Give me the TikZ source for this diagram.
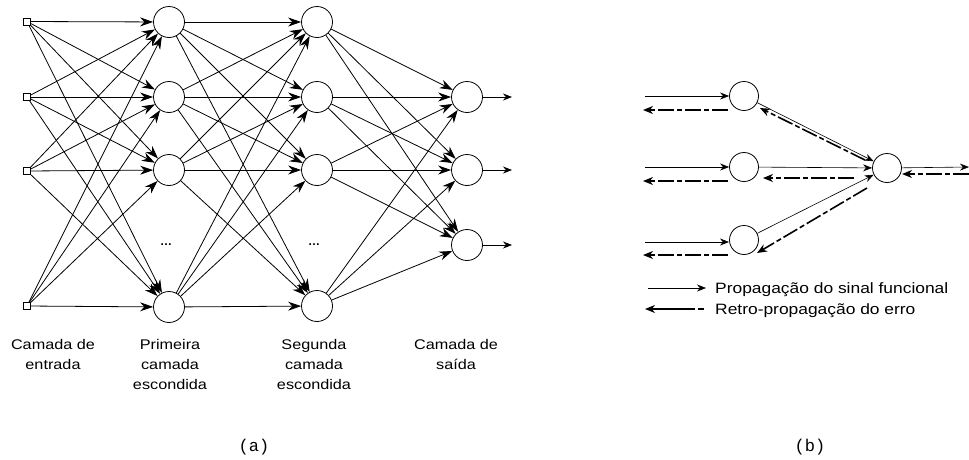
\documentclass[tikz,border=0pt]{standalone}
\usepackage{fontspec}
\setmainfont{Liberation Sans}
\newfontfamily\labfont[FakeStretch=1.16]{Liberation Sans}
\newfontfamily\capfont{Liberation Mono}
\usetikzlibrary{arrows.meta,calc}
\begin{document}
\begin{tikzpicture}[x=1pt,y=-1pt,
  neuron/.style={circle,draw,line width=0.8pt,minimum size=31pt,inner sep=0},
  neuronb/.style={circle,draw,line width=0.8pt,minimum size=29pt,inner sep=0},
  inbox/.style={rectangle,draw,line width=0.9pt,minimum size=7pt,inner sep=0},
  conn/.style={line width=0.8pt,-{Stealth[length=13pt,width=9pt]}},
  outarr/.style={line width=0.8pt,-{Stealth[length=9pt,width=7pt]}},
  sig/.style={line width=0.6pt,-{Stealth[length=9pt,width=7pt]}},
  err/.style={line width=1.6pt,dash pattern=on 16pt off 3pt on 5pt off 3pt,-{Stealth[length=10pt,width=8pt]}},
  lab/.style={font=\labfont\fontsize{14}{20}\selectfont,align=center,anchor=north,inner sep=0},
  leg/.style={font=\labfont\fontsize{15}{18}\selectfont,anchor=base west,inner sep=0},
  dots/.style={font=\bfseries\fontsize{12}{12}\selectfont,inner sep=0},
  capt/.style={font=\capfont\fontsize{17}{17}\selectfont,inner sep=0}
]
\useasboundingbox (0,0) rectangle (969,459);
% ---------- (a) ----------
\node[inbox] (i1) at (27,21.5) {};
\node[inbox] (i2) at (27,97) {};
\node[inbox] (i3) at (27,171) {};
\node[inbox] (i4) at (27,306) {};
\node[neuron] (h1) at (169,22) {};
\node[neuron] (h2) at (169,97) {};
\node[neuron] (h3) at (169,170) {};
\node[neuron] (h4) at (169,307) {};
\node[neuron] (s1) at (317,22) {};
\node[neuron] (s2) at (317,97) {};
\node[neuron] (s3) at (317,170) {};
\node[neuron] (s4) at (317,306) {};
\node[neuron] (o1) at (467,97) {};
\node[neuron] (o2) at (467,170) {};
\node[neuron] (o3) at (467,245) {};
\node[dots] (d1) at (166,245) {\ldots};
\node[dots] (d2) at (314,245) {\ldots};
\foreach \a in {1,...,4}{
  \foreach \b in {1,...,4}{
    \draw[conn] (i\a) -- (h\b);
    \draw[conn] (h\a) -- (s\b);
  }
  \foreach \b in {1,...,3}{
    \draw[conn] (s\a) -- (o\b);
  }
}
\coordinate (oe1) at (512,97);
\coordinate (oe2) at (512,170);
\coordinate (oe3) at (512,245);
\foreach \b in {1,...,3}{\draw[outarr] (o\b) -- (oe\b);}
\node[lab] (l1) at (53,339) {Camada de\\entrada};
\node[lab] (l2) at (170,339) {Primeira\\camada\\escondida};
\node[lab] (l3) at (314,339) {Segunda\\camada\\escondida};
\node[lab] (l4) at (456,339) {Camada de\\saída};
\node[capt] (ca) at (254,447) {(a)};
% ---------- (b) ----------
\node[neuronb] (b1) at (744,96) {};
\node[neuronb] (b2) at (744,167) {};
\node[neuronb] (b3) at (744,240) {};
\node[neuronb] (r) at (887,168) {};
\coordinate (bi1) at (645,96);
\coordinate (bi2) at (645,167);
\coordinate (bi3) at (645,242);
\coordinate (be1) at (643,110);
\coordinate (be2) at (643,181);
\coordinate (be3) at (643,255);
\draw[sig] (bi1) -- (b1);
\draw[sig] (bi2) -- (b2);
\draw[sig] (bi3) -- ($(b3.center)+(-15,2)$);
\draw[err] ($(b1.center)+(-16,14)$) -- (be1);
\draw[err] ($(b2.center)+(-16,14)$) -- (be2);
\draw[err] ($(b3.center)+(-16,15)$) -- (be3);
\draw[sig] (b1) -- (r);
\draw[sig] (b2) -- (r);
\draw[sig] (b3) -- (r);
\draw[err] ($(r.center)+(-22,-8)$) -- ($(b1.center)+(16,12)$);
\draw[err] ($(r.center)+(-33,10)$) -- ($(b2.center)+(19,11)$);
\draw[err] ($(r.center)+(-20,20)$) -- ($(b3.center)+(13,13)$);
\coordinate (ro) at (969,167);
\coordinate (ri) at (969,174);
\draw[sig] (r) -- (ro);
\draw[err] (ri) -- ($(r.center)+(15,6)$);
% legend
\coordinate (ls1) at (648,288);
\coordinate (ls2) at (706,288);
\draw[sig] (ls1) -- (ls2);
\node[leg] (lt1) at (715,293) {Propagação do sinal funcional};
\coordinate (le1) at (645,309);
\coordinate (le2) at (704,309);
\draw[err,dash pattern=on 6pt off 3pt on 60pt] (le2) -- (le1);
\node[leg] (lt2) at (715,314) {Retro-propagação do erro};
\node[capt] (cb) at (810,447) {(b)};
\end{tikzpicture}
\end{document}
